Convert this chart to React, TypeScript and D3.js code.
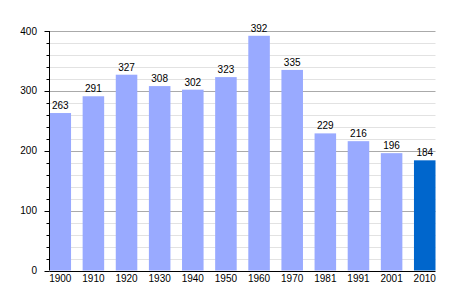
import React from "react";
import * as d3 from "d3";

const years = ["1900", "1910", "1920", "1930", "1940", "1950", "1960", "1970", "1981", "1991", "2001", "2010"];
const population = [263, 291, 327, 308, 302, 323, 392, 335, 229, 216, 196, 184];
const majorTicks = [0, 100, 200, 300, 400];
const minorTicks = d3.range(0, 401, 20);

const W = 464;
const H = 300;
const left = 49.5;
const right = 435.5;
const top = 31;
const bottom = 270.5;
const font = "'Liberation Sans', Arial, sans-serif";

export default function App() {
  const x = d3.scaleBand<string>().domain(years).range([left, right]).paddingInner(0.35).paddingOuter(0).align(0);
  const y = d3.scaleLinear().domain([0, 400]).range([bottom, top]);

  return (
    <svg width={W} height={H} style={{ position: "absolute", left: 0, top: 0, background: "#fff" }}>
      {minorTicks.filter((t) => t % 100 !== 0).map((t) => (
        <line key={"mg" + t} x1={left} x2={right} y1={Math.round(y(t)) + 0.5} y2={Math.round(y(t)) + 0.5} stroke="#e2e2e2" strokeWidth={1} />
      ))}
      {majorTicks.filter((t) => t !== 0).map((t) => (
        <line key={"Mg" + t} x1={left} x2={right} y1={Math.round(y(t)) + 0.5} y2={Math.round(y(t)) + 0.5} stroke="#aaaaaa" strokeWidth={1} />
      ))}
      {years.map((yr, i) => (
        <rect
          key={yr}
          x={x(yr)}
          y={y(population[i])}
          width={x.bandwidth()}
          height={y(0) - y(population[i])}
          fill={i === years.length - 1 ? "#0066cc" : "#99aaff"}
        />
      ))}
      {years.map((yr, i) => (
        <text
          key={"v" + yr}
          x={(x(yr) as number) + x.bandwidth() / 2}
          y={y(population[i]) - 4}
          textAnchor="middle"
          fontFamily={font}
          fontSize={10}
          fill="#000"
        >
          {population[i]}
        </text>
      ))}
      <line x1={left} x2={left} y1={top} y2={bottom} stroke="#000" strokeWidth={1} />
      <line x1={left} x2={right} y1={Math.round(y(0)) + 0.5} y2={Math.round(y(0)) + 0.5} stroke="#000" strokeWidth={1} />
      {minorTicks.map((t) => (
        <line
          key={"t" + t}
          x1={t % 100 === 0 ? left - 5 : left - 3}
          x2={left}
          y1={Math.round(y(t)) + 0.5}
          y2={Math.round(y(t)) + 0.5}
          stroke="#000"
          strokeWidth={1}
        />
      ))}
      {majorTicks.map((t) => (
        <text key={"yl" + t} x={37} y={y(t) + 3.5} textAnchor="end" fontFamily={font} fontSize={10} fill="#000">
          {t}
        </text>
      ))}
      {years.map((yr) => (
        <text
          key={"xl" + yr}
          x={(x(yr) as number) + x.bandwidth() / 2}
          y={282}
          textAnchor="middle"
          fontFamily={font}
          fontSize={10}
          fill="#000"
        >
          {yr}
        </text>
      ))}
    </svg>
  );
}
